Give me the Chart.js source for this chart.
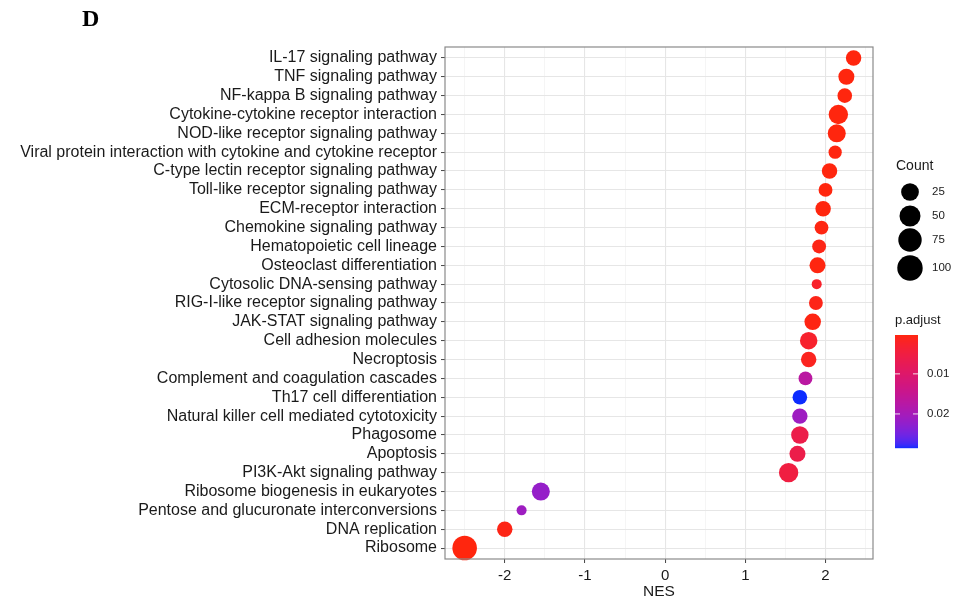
<!DOCTYPE html>
<html>
<head>
<meta charset="utf-8">
<script src="https://cdn.jsdelivr.net/npm/chart.js@4/dist/chart.umd.min.js"></script>
<style>
  html, body { margin: 0; padding: 0; background: #ffffff; }
  #wrap { width: 968px; height: 603px; position: relative; }
</style>
</head>
<body>
<div id="wrap"><canvas id="c" width="968" height="603"></canvas></div>
<script>
// ---- data (top to bottom as shown) ----
const categories = [
  "IL-17 signaling pathway",
  "TNF signaling pathway",
  "NF-kappa B signaling pathway",
  "Cytokine-cytokine receptor interaction",
  "NOD-like receptor signaling pathway",
  "Viral protein interaction with cytokine and cytokine receptor",
  "C-type lectin receptor signaling pathway",
  "Toll-like receptor signaling pathway",
  "ECM-receptor interaction",
  "Chemokine signaling pathway",
  "Hematopoietic cell lineage",
  "Osteoclast differentiation",
  "Cytosolic DNA-sensing pathway",
  "RIG-I-like receptor signaling pathway",
  "JAK-STAT signaling pathway",
  "Cell adhesion molecules",
  "Necroptosis",
  "Complement and coagulation cascades",
  "Th17 cell differentiation",
  "Natural killer cell mediated cytotoxicity",
  "Phagosome",
  "Apoptosis",
  "PI3K-Akt signaling pathway",
  "Ribosome biogenesis in eukaryotes",
  "Pentose and glucuronate interconversions",
  "DNA replication",
  "Ribosome"
];
const nes = [2.35, 2.26, 2.24, 2.16, 2.14, 2.12, 2.05, 2.00, 1.97, 1.95, 1.92, 1.90, 1.89, 1.88,
             1.84, 1.79, 1.79, 1.75, 1.68, 1.68, 1.68, 1.65, 1.54, -1.55, -1.79, -2.00, -2.50];
const geneCount = [19, 22, 15, 46, 35, 10, 19, 12, 19, 12, 12, 22, 5, 12,
                   25, 31, 19, 12, 15, 19, 31, 22, 46, 35, 5, 19, 105];
const pAdjust = [0.0003, 0.0003, 0.0003, 0.0003, 0.0003, 0.0004, 0.0003, 0.0003, 0.0003, 0.0005,
                 0.0008, 0.0004, 0.0025, 0.0009, 0.0006, 0.0028, 0.0015, 0.017, 0.0285, 0.021,
                 0.006, 0.006, 0.005, 0.022, 0.021, 0.0008, 0.0003];
const xTickValues = [-2, -1, 0, 1, 2];
const countLegendValues = [25, 50, 75, 100];
const pLegendValues = [0.01, 0.02];

// ---- mappings ----
const N = categories.length;
const cMin = Math.min(...geneCount), cMax = Math.max(...geneCount);
const rMin = 5, rMax = 12.3;
function radiusFor(c) {
  const f = Math.max(0, (c - cMin) / (cMax - cMin));
  return rMin + (rMax - rMin) * Math.sqrt(f);
}
const pMin = Math.min(...pAdjust), pMax = Math.max(...pAdjust);

function srgbToLin(v) { v /= 255; return v <= 0.04045 ? v / 12.92 : Math.pow((v + 0.055) / 1.055, 2.4); }
function linToSrgb(v) { v = v <= 0.0031308 ? 12.92 * v : 1.055 * Math.pow(v, 1 / 2.4) - 0.055; return Math.round(Math.max(0, Math.min(1, v)) * 255); }
function rgbToLab(r, g, b) {
  r = srgbToLin(r); g = srgbToLin(g); b = srgbToLin(b);
  let X = (r * 0.4124 + g * 0.3576 + b * 0.1805) / 0.95047;
  let Y = (r * 0.2126 + g * 0.7152 + b * 0.0722);
  let Z = (r * 0.0193 + g * 0.1192 + b * 0.9505) / 1.08883;
  const f = t => t > 0.008856 ? Math.cbrt(t) : 7.787 * t + 16 / 116;
  X = f(X); Y = f(Y); Z = f(Z);
  return [116 * Y - 16, 500 * (X - Y), 200 * (Y - Z)];
}
function labToRgb(L, a, bb) {
  let Y = (L + 16) / 116, X = a / 500 + Y, Z = Y - bb / 200;
  const fi = t => t * t * t > 0.008856 ? t * t * t : (t - 16 / 116) / 7.787;
  X = fi(X) * 0.95047; Y = fi(Y); Z = fi(Z) * 1.08883;
  const r = X * 3.2406 + Y * -1.5372 + Z * -0.4986;
  const g = X * -0.9689 + Y * 1.8758 + Z * 0.0415;
  const b = X * 0.0557 + Y * -0.2040 + Z * 1.0570;
  return [linToSrgb(r), linToSrgb(g), linToSrgb(b)];
}
const lowLab = rgbToLab(255, 38, 14);
const highLab = rgbToLab(12, 44, 255);
function colorFor(p) {
  const t = Math.max(0, Math.min(1, (p - pMin) / (pMax - pMin)));
  const L = lowLab[0] + (highLab[0] - lowLab[0]) * t;
  const a = lowLab[1] + (highLab[1] - lowLab[1]) * t;
  const b = lowLab[2] + (highLab[2] - lowLab[2]) * t;
  const c = labToRgb(L, a, b);
  return `rgb(${c[0]},${c[1]},${c[2]})`;
}

const points = categories.map((name, i) => ({ x: nes[i], y: N - 1 - i, r: radiusFor(geneCount[i]) }));
const colors = categories.map((name, i) => colorFor(pAdjust[i]));

const FONT = "'Liberation Sans', Arial, Helvetica, sans-serif";
const TEXT = '#1a1a1a';

const decorPlugin = {
  id: 'decor',
  afterDraw(chart) {
    const ctx = chart.ctx;
    const a = chart.chartArea;
    ctx.save();
    // panel border
    ctx.strokeStyle = '#8a8a8a';
    ctx.lineWidth = 1.2;
    ctx.strokeRect(a.left, a.top, a.right - a.left, a.bottom - a.top);

    // panel letter
    ctx.fillStyle = '#000';
    ctx.font = "bold 24px 'Liberation Serif', 'Times New Roman', serif";
    ctx.textAlign = 'left';
    ctx.textBaseline = 'middle';
    ctx.fillText('D', 82, 20);

    // Count legend
    ctx.fillStyle = TEXT;
    ctx.font = '14px ' + FONT;
    ctx.fillText('Count', 896, 166);
    const keyY = [192, 216, 240, 268];
    countLegendValues.forEach((v, i) => {
      ctx.beginPath();
      ctx.fillStyle = '#000';
      ctx.arc(910, keyY[i], radiusFor(v) + 0.6, 0, Math.PI * 2);
      ctx.fill();
      ctx.fillStyle = TEXT;
      ctx.font = '11.5px ' + FONT;
      ctx.fillText(String(v), 932, keyY[i]);
    });

    // p.adjust colorbar
    ctx.fillStyle = TEXT;
    ctx.font = '13px ' + FONT;
    ctx.fillText('p.adjust', 895, 320);
    const bx = 895, bw = 23, by = 335, bh = 113;
    for (let k = 0; k < bh; k++) {
      const p = pMin + (pMax - pMin) * (k + 0.5) / bh;
      ctx.fillStyle = colorFor(p);
      ctx.fillRect(bx, by + k, bw, 1.2);
    }
    pLegendValues.forEach(v => {
      const yy = by + (v - pMin) / (pMax - pMin) * bh;
      ctx.strokeStyle = 'rgba(255,255,255,0.85)';
      ctx.lineWidth = 1;
      ctx.beginPath();
      ctx.moveTo(bx, yy); ctx.lineTo(bx + 5, yy);
      ctx.moveTo(bx + bw - 5, yy); ctx.lineTo(bx + bw, yy);
      ctx.stroke();
      ctx.fillStyle = TEXT;
      ctx.font = '11.5px ' + FONT;
      ctx.fillText(v.toFixed(2), 927, yy);
    });
    ctx.restore();
  }
};

new Chart(document.getElementById('c'), {
  type: 'bubble',
  data: {
    datasets: [{
      data: points,
      backgroundColor: colors,
      borderWidth: 0,
      hoverBorderWidth: 0,
      clip: false
    }]
  },
  options: {
    responsive: false,
    animation: false,
    devicePixelRatio: 1,
    layout: { padding: { top: 47, right: 95, left: 0, bottom: 0 } },
    plugins: { legend: { display: false }, tooltip: { enabled: false } },
    scales: {
      x: {
        type: 'linear',
        min: -2.745,
        max: 2.592,
        afterBuildTicks(scale) {
          const t = [];
          for (let v = -2.5; v <= 2.5001; v += 0.5) t.push({ value: Math.round(v * 10) / 10 });
          scale.ticks = t;
        },
        afterFit(scale) { scale.height = 44; },
        border: { display: false },
        grid: {
          color: c => (c.tick && Number.isInteger(c.tick.value)) ? '#e6e6e6' : '#f0f0f0',
          lineWidth: c => (c.tick && Number.isInteger(c.tick.value)) ? 1.1 : 0.7,
          tickColor: c => (c.tick && Number.isInteger(c.tick.value)) ? '#444' : 'rgba(0,0,0,0)',
          tickLength: 4,
          tickWidth: 1
        },
        ticks: {
          autoSkip: false,
          maxRotation: 0,
          padding: 4,
          color: TEXT,
          font: { family: FONT, size: 15 },
          callback: v => Number.isInteger(v) && xTickValues.includes(v) ? String(v) : ''
        },
        title: {
          display: true,
          text: 'NES',
          color: TEXT,
          font: { family: FONT, size: 15.5 },
          padding: { top: 0, bottom: 1.5 }
        }
      },
      y: {
        type: 'linear',
        min: -0.58,
        max: N - 1 + 0.58,
        afterBuildTicks(scale) {
          const t = [];
          for (let v = 0; v < N; v++) t.push({ value: v });
          scale.ticks = t;
        },
        afterFit(scale) { scale.width = 445; },
        border: { display: false },
        grid: {
          color: '#e6e6e6',
          lineWidth: 1.1,
          tickColor: '#444',
          tickLength: 4,
          tickWidth: 1
        },
        ticks: {
          autoSkip: false,
          padding: 4,
          color: TEXT,
          font: { family: FONT, size: 16 },
          callback: v => categories[N - 1 - v]
        }
      }
    }
  },
  plugins: [decorPlugin]
});
</script>
</body>
</html>
